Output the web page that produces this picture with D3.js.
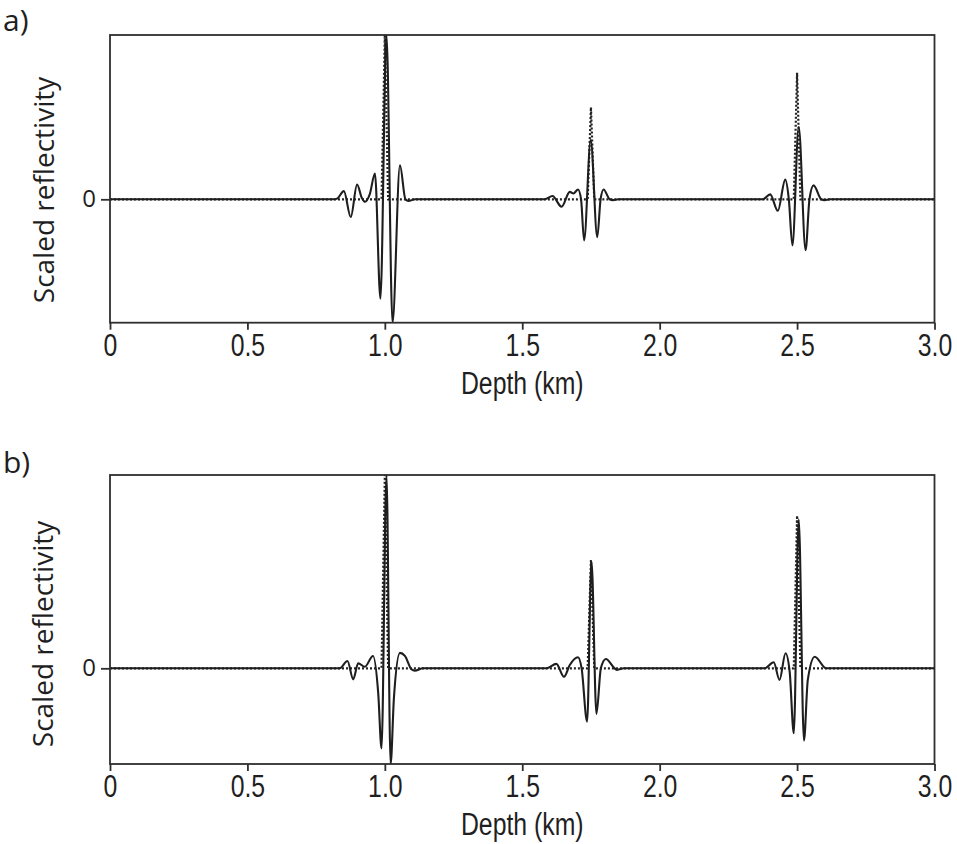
<!DOCTYPE html>
<html>
<head>
<meta charset="utf-8">
<script src="https://cdn.jsdelivr.net/npm/d3@7"></script>
<style>
  html, body { margin: 0; padding: 0; background: #fff; }
  svg { display: block; }
  .panel-letter, .ylab, .ytick text { font-family: "Open Sans", "Noto Sans", sans-serif; fill: #1f1f1f; }
  .xtick text, .xlab { font-family: "Liberation Sans", Arial, sans-serif; fill: #1f1f1f; }
</style>
</head>
<body>
<svg id="chart" width="957" height="844"></svg>
<script>
// Depth axis (km)
const depthTicks = [0, 0.5, 1.0, 1.5, 2.0, 2.5, 3.0];
const depthTickLabels = ["0", "0.5", "1.0", "1.5", "2.0", "2.5", "3.0"];
const depthRange = [0, 3.0];

// Panel a: estimated reflectivity trace [depth, scaled value]
const traceA = [
  [0.0, 0], [0.815, 0], [0.828, 0.006], [0.851, 0.05], [0.876, -0.108], [0.899, 0.09],
  [0.916, 0.01], [0.928, -0.015], [0.945, 0.03], [0.964, 0.157], [0.984, -0.605],
  [1.006, 1.0], [1.028, -0.75], [1.055, 0.207], [1.075, 0.0], [1.086, -0.01], [1.11, 0],
  [1.582, 0], [1.61, 0.02], [1.643, -0.045], [1.673, 0.045], [1.686, 0.035], [1.703, 0.06],
  [1.714, 0.0], [1.725, -0.25], [1.749, 0.36], [1.773, -0.23], [1.785, 0.0], [1.796, 0.06],
  [1.818, 0], [1.83, -0.005], [1.85, 0],
  [2.376, 0], [2.402, 0.03], [2.43, -0.07], [2.457, 0.12], [2.47, 0.0], [2.483, -0.28],
  [2.506, 0.44], [2.531, -0.31], [2.545, 0.0], [2.56, 0.085], [2.588, 0], [2.6, -0.005],
  [2.62, 0], [3.0, 0]
];
// Panel a: true reflectivity spikes [depth, scaled value]
const spikesA = [[1.0, 1.0], [1.75, 0.56], [2.5, 0.77]];
const yDomainA = [-0.751, 1.0];

// Panel b: estimated reflectivity trace [depth, scaled value]
const traceB = [
  [0.0, 0], [0.836, 0], [0.864, 0.038], [0.885, -0.057], [0.903, 0.026], [0.927, 0.008],
  [0.957, 0.064], [0.976, -0.13], [0.988, -0.414], [1.006, 1.0], [1.021, -0.495],
  [1.033, -0.155], [1.055, 0.08], [1.073, 0.064], [1.097, -0.005], [1.109, -0.012], [1.139, 0],
  [1.588, 0], [1.624, 0.023], [1.652, -0.044], [1.673, 0.017], [1.703, 0.057], [1.716, 0.0],
  [1.736, -0.276], [1.752, 0.552], [1.77, -0.236], [1.786, 0.0], [1.804, 0.048], [1.836, 0],
  [1.845, -0.008], [1.87, 0],
  [2.382, 0], [2.415, 0.031], [2.436, -0.06], [2.458, 0.078], [2.473, -0.017], [2.488, -0.336],
  [2.506, 0.77], [2.525, -0.374], [2.539, -0.06], [2.564, 0.06], [2.606, 0], [3.0, 0]
];
// Panel b: true reflectivity spikes [depth, scaled value]
const spikesB = [[1.0, 1.0], [1.75, 0.56], [2.5, 0.79]];
const yDomainB = [-0.495, 1.0];

const svg = d3.select("#chart");
const left = 110, right = 934.5;
const x = d3.scaleLinear().domain(depthRange).range([left, right]);
const narrow = "scale(0.8,1)";

function drawPanel(cfg) {
  const y = d3.scaleLinear().domain(cfg.yDomain).range([cfg.bottom, cfg.top]);
  const g = svg.append("g");
  const clipId = "clip-" + cfg.letter;
  g.append("clipPath").attr("id", clipId)
    .append("rect").attr("x", left).attr("y", cfg.top)
    .attr("width", right - left).attr("height", cfg.bottom - cfg.top);

  // true reflectivity: zero line with narrow spikes, dotted
  const spikePts = [[depthRange[0], 0]];
  const hw = 0.012;
  cfg.spikes.forEach(([d, v]) => { spikePts.push([d - hw, 0], [d, v], [d + hw, 0]); });
  spikePts.push([depthRange[1], 0]);

  const plot = g.append("g").attr("clip-path", `url(#${clipId})`);
  plot.append("path")
    .attr("d", d3.line().x(p => x(p[0])).y(p => y(p[1]))(spikePts))
    .attr("fill", "none").attr("stroke", "#222").attr("stroke-width", 2.2)
    .attr("stroke-dasharray", "2,2");

  // estimated reflectivity, solid
  plot.append("path")
    .attr("d", d3.line().curve(d3.curveMonotoneX).x(p => x(p[0])).y(p => y(p[1]))(cfg.trace))
    .attr("fill", "none").attr("stroke", "#1e1e1e").attr("stroke-width", 2.1)
    .attr("stroke-linejoin", "round");

  // frame
  g.append("rect").attr("x", left).attr("y", cfg.top)
    .attr("width", right - left).attr("height", cfg.bottom - cfg.top)
    .attr("fill", "none").attr("stroke", "#2e2e2e").attr("stroke-width", 1.8);

  // depth axis
  const xa = g.append("g").attr("class", "xtick")
    .attr("transform", `translate(0,${cfg.bottom})`)
    .call(d3.axisBottom(x).tickValues(depthTicks)
      .tickFormat((d, i) => depthTickLabels[i]).tickSize(7).tickPadding(4).tickSizeOuter(0));
  xa.select(".domain").remove();
  xa.selectAll("line").attr("stroke", "#2e2e2e").attr("stroke-width", 1.8);
  xa.selectAll("text").attr("font-size", 31).attr("fill", "#1f1f1f").attr("transform", narrow);

  // reflectivity axis: zero only
  const ya = g.append("g").attr("class", "ytick")
    .attr("transform", `translate(${left},0)`)
    .call(d3.axisLeft(y).tickValues([0]).tickFormat(() => "0").tickSize(9).tickPadding(5));
  ya.select(".domain").remove();
  ya.selectAll("line").attr("stroke", "#2e2e2e").attr("stroke-width", 1.8);
  ya.selectAll("text").attr("font-size", 24).attr("fill", "#1f1f1f");

  g.append("g").attr("transform", `translate(${(left + right) / 2},${cfg.bottom + 71})`)
    .append("text").attr("class", "xlab").attr("transform", narrow)
    .attr("text-anchor", "middle").attr("font-size", 31).text("Depth (km)");

  g.append("text").attr("class", "ylab")
    .attr("transform", `translate(${cfg.ylabX},${cfg.ylabY}) rotate(-90)`)
    .attr("text-anchor", "middle").attr("font-size", 28).text("Scaled reflectivity");

  g.append("text").attr("class", "panel-letter")
    .attr("x", 3).attr("y", cfg.letterY).attr("font-size", 30).text(cfg.letter + ")");
}

drawPanel({ letter: "a", top: 35, bottom: 322.7, yDomain: yDomainA, trace: traceA,
  spikes: spikesA, ylabX: 54, ylabY: 190, letterY: 31 });
drawPanel({ letter: "b", top: 475, bottom: 764, yDomain: yDomainB, trace: traceB,
  spikes: spikesB, ylabX: 53, ylabY: 634, letterY: 473 });
</script>
</body>
</html>
